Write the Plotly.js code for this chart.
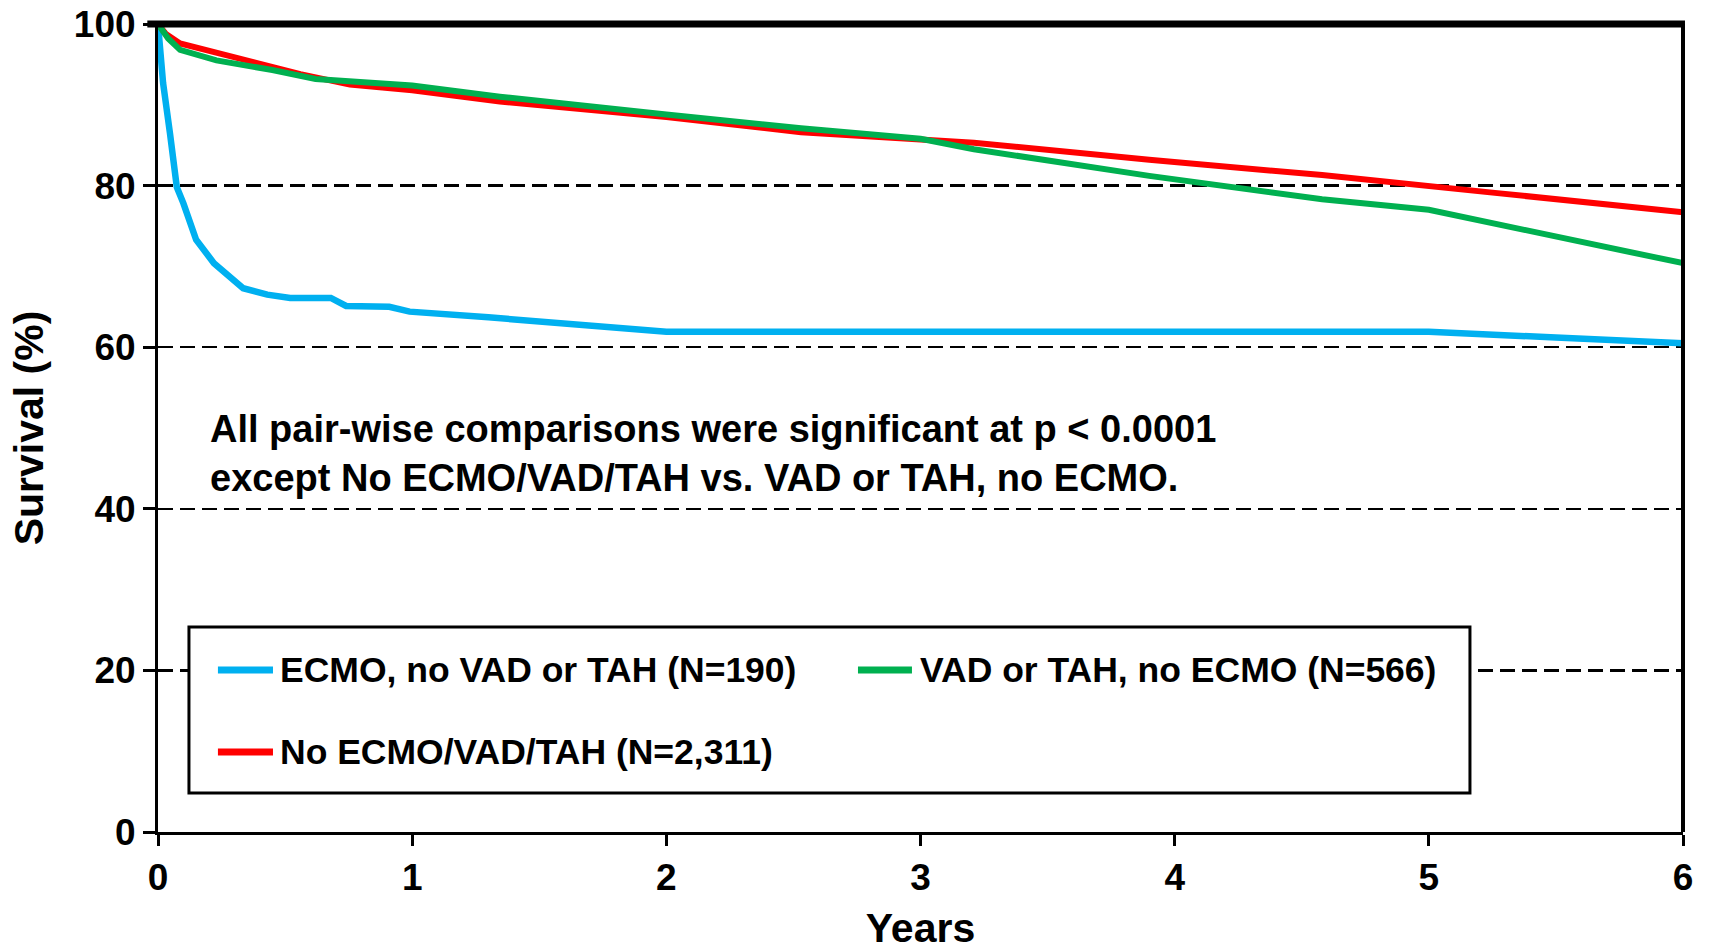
<!DOCTYPE html>
<html>
<head>
<meta charset="utf-8">
<script src="https://cdn.plot.ly/plotly-3.0.1.min.js"></script>
<style>
  html, body { margin: 0; padding: 0; background: #ffffff; }
  #chart { width: 1710px; height: 951px; }
</style>
</head>
<body>
<div id="chart"></div>
<script>
// ---- Data ----
const seriesNames = [
  "ECMO, no VAD or TAH (N=190)",
  "VAD or TAH, no ECMO (N=566)",
  "No ECMO/VAD/TAH (N=2,311)"
];
const seriesColors = ["#00B0F0", "#00B050", "#FF0000"];

const yearsEcmo = [0, 0.02, 0.047, 0.074, 0.1, 0.15, 0.22, 0.3, 0.335, 0.43, 0.52, 0.68, 0.74, 0.91, 0.99, 1.3, 1.65, 2.0, 3.0, 4.0, 5.0, 5.5, 6.0];
const survEcmo  = [100, 92.7, 86.5, 79.8, 77.8, 73.3, 70.4, 68.3, 67.3, 66.5, 66.1, 66.1, 65.1, 65.0, 64.4, 63.7, 62.7, 61.9, 61.9, 61.9, 61.9, 61.2, 60.5];

const yearsVad = [0, 0.04, 0.087, 0.23, 0.45, 0.62, 1.0, 1.345, 2.0, 2.53, 3.0, 3.21, 3.9, 4.58, 5.0, 5.49, 6.0];
const survVad  = [100, 98.2, 96.8, 95.5, 94.3, 93.2, 92.4, 91.0, 88.8, 87.1, 85.8, 84.5, 81.2, 78.3, 77.0, 73.7, 70.4];

const yearsNone = [0, 0.03, 0.087, 0.23, 0.56, 0.755, 1.0, 1.345, 2.0, 2.53, 3.0, 3.21, 3.9, 4.58, 5.26, 6.0];
const survNone  = [100, 98.8, 97.6, 96.4, 93.8, 92.5, 91.8, 90.4, 88.5, 86.6, 85.7, 85.3, 83.2, 81.3, 79.1, 76.7];

const xTicks = [0, 1, 2, 3, 4, 5, 6];
const yTicks = [0, 20, 40, 60, 80, 100];

const xTitle = "Years";
const yTitle = "Survival (%)";
const noteText = "All pair-wise comparisons were significant at p < 0.0001<br>except No ECMO/VAD/TAH vs. VAD or TAH, no ECMO.";

// ---- Traces ----
const FONT = "Liberation Sans, Arial, sans-serif";
const traces = [
  { x: yearsEcmo, y: survEcmo, name: seriesNames[0], mode: "lines",
    line: { color: seriesColors[0], width: 6.5, shape: "linear" } },
  { x: yearsNone, y: survNone, name: seriesNames[2], mode: "lines",
    line: { color: seriesColors[2], width: 6, shape: "linear" } },
  { x: yearsVad, y: survVad, name: seriesNames[1], mode: "lines",
    line: { color: seriesColors[1], width: 6, shape: "linear" } }
];

// ---- Legend drawn as a boxed key (layout decorations) ----
const legendBox = { x0: 0.0203, x1: 0.8603, y0: 0.0483, y1: 0.2537 };
const legendEntries = [
  { idx: 0, lx0: 0.0393, lx1: 0.0754, tx: 0.0787, y: 0.2005 },
  { idx: 1, lx0: 0.4590, lx1: 0.4944, tx: 0.4984, y: 0.2005 },
  { idx: 2, lx0: 0.0393, lx1: 0.0754, tx: 0.0787, y: 0.0990 }
];

const shapes = [
  { type: "rect", xref: "paper", yref: "paper", x0: legendBox.x0, x1: legendBox.x1,
    y0: legendBox.y0, y1: legendBox.y1, fillcolor: "#ffffff",
    line: { color: "#000000", width: 3 }, layer: "above" },
  // heavy top frame and right frame
  { type: "line", xref: "paper", yref: "paper", x0: -0.007, x1: 1.0013, y0: 1, y1: 1,
    line: { color: "#000000", width: 7 }, layer: "above" },
  { type: "line", xref: "paper", yref: "paper", x0: 1, x1: 1, y0: 0, y1: 1,
    line: { color: "#000000", width: 4 }, layer: "above" }
];
const annotations = [
  { xref: "paper", yref: "paper", x: 0.0328, y: 0.468, xanchor: "left", yanchor: "middle",
    align: "left", showarrow: false, text: noteText,
    font: { family: FONT, size: 38, color: "#000000", weight: "bold" } }
];
legendEntries.forEach(e => {
  shapes.push({ type: "line", xref: "paper", yref: "paper", x0: e.lx0, x1: e.lx1, y0: e.y, y1: e.y,
    line: { color: seriesColors[e.idx], width: 7 }, layer: "above" });
  annotations.push({ xref: "paper", yref: "paper", x: e.tx, y: e.y, xanchor: "left", yanchor: "middle",
    showarrow: false, text: seriesNames[e.idx],
    font: { family: FONT, size: 35.5, color: "#000000", weight: "bold" } });
});

const layout = {
  width: 1710, height: 951,
  margin: { l: 158, r: 27, t: 24, b: 119, pad: 0 },
  paper_bgcolor: "#ffffff", plot_bgcolor: "#ffffff",
  showlegend: false,
  font: { family: FONT, color: "#000000" },
  xaxis: {
    range: [0, 6], tickvals: xTicks, ticktext: xTicks.map(String),
    ticks: "outside", ticklen: 11, tickwidth: 3, tickcolor: "#000000",
    showline: true, linewidth: 3, linecolor: "#000000",
    showgrid: false, zeroline: false,
    tickfont: { family: FONT, size: 37, color: "#000000", weight: "bold" },
    title: { text: xTitle, standoff: 16,
      font: { family: FONT, size: 41, color: "#000000", weight: "bold" } }
  },
  yaxis: {
    range: [0, 100], tickvals: yTicks, ticktext: yTicks.map(String),
    ticks: "outside", ticklen: 12, tickwidth: 3, tickcolor: "#000000",
    showline: true, linewidth: 3, linecolor: "#000000",
    showgrid: true, gridcolor: "#000000", gridwidth: 2.5, griddash: "15px,7px",
    zeroline: false,
    tickfont: { family: FONT, size: 37, color: "#000000", weight: "bold" },
    title: { text: yTitle, standoff: 18,
      font: { family: FONT, size: 41, color: "#000000", weight: "bold" } }
  },
  shapes: shapes,
  annotations: annotations
};

Plotly.newPlot("chart", traces, layout, { displayModeBar: false, staticPlot: true });
</script>
</body>
</html>
